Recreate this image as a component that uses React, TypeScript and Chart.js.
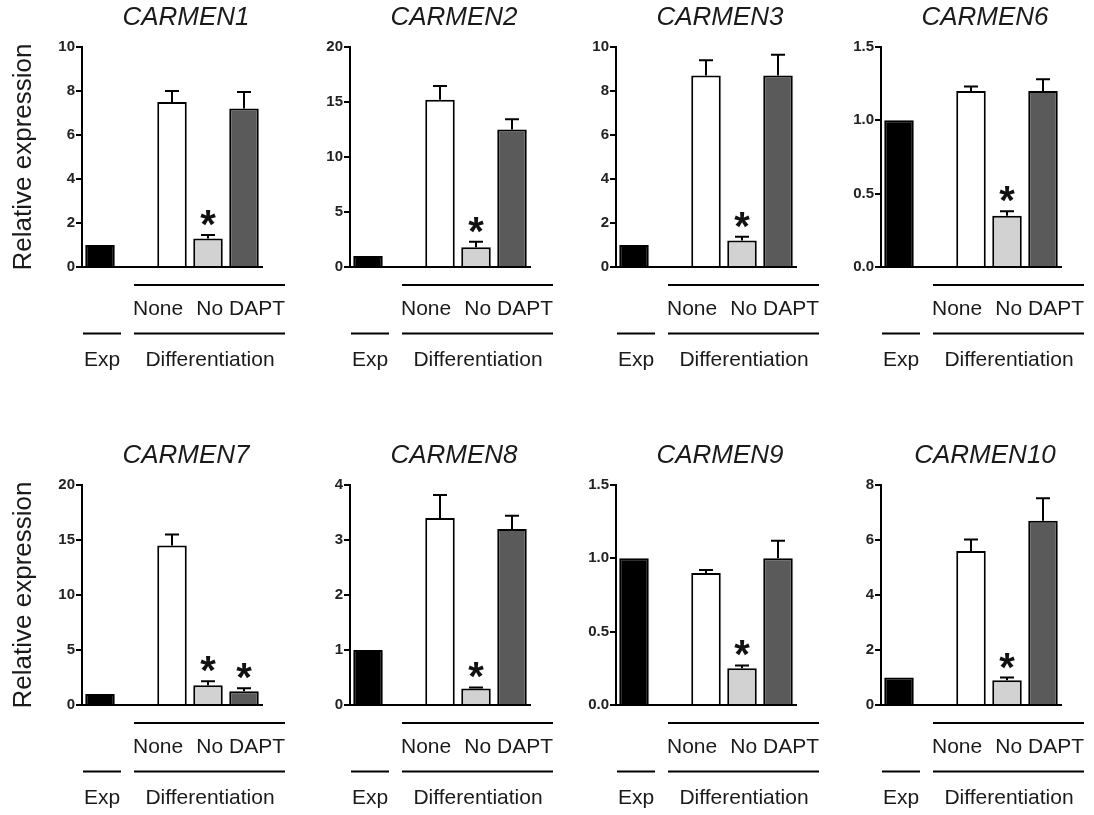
import React, { useEffect, useRef } from "react";
import { Chart, registerables } from "chart.js";

Chart.register(...registerables);

// ---------- data ----------
const panelNames = ["CARMEN1", "CARMEN2", "CARMEN3", "CARMEN6", "CARMEN7", "CARMEN8", "CARMEN9", "CARMEN10"];
const categories = ["Exp", "", "None", "No DAPT", " "];
const expValues = [1, 1, 1, 1, 1, 1, 1, 1];
const noneValues = [7.5, 15.2, 8.7, 1.2, 14.5, 3.4, 0.9, 5.6];
const noneErrors = [0.5, 1.25, 0.7, 0.03, 1.0, 0.42, 0.02, 0.42];
const noDaptValues = [1.3, 1.8, 1.2, 0.35, 1.8, 0.3, 0.25, 0.9];
const noDaptErrors = [0.15, 0.5, 0.17, 0.03, 0.35, 0.02, 0.02, 0.1];
const fourthValues = [7.2, 12.5, 8.7, 1.2, 1.25, 3.2, 1.0, 6.7];
const fourthErrors = [0.75, 0.93, 0.95, 0.08, 0.28, 0.24, 0.12, 0.82];
const noDaptSignificant = [true, true, true, true, true, true, true, true];
const fourthSignificant = [false, false, false, false, true, false, false, false];
const yMaxValues = [10, 20, 10, 1.5, 20, 4, 1.5, 8];
const yStepValues = [2, 5, 2, 0.5, 5, 1, 0.5, 2];
const yDecimals = [0, 0, 0, 1, 0, 0, 1, 0];
const treatmentLabels = ["None", "No DAPT"];
const groupLabels = ["Exp", "Differentiation"];
const yAxisTitle = "Relative expression";
const barColors = ["#000000", "#ffffff", "#ffffff", "#d2d2d2", "#5a5a5a"];

// ---------- layout ----------
const FONT = "'Liberation Sans', Arial, Helvetica, sans-serif";
const AXIS_X = [82, 350, 616, 881];
const ROW_TOP = [0, 438];
const CANVAS_W = 290;
const CANVAS_H = 375;
const AXIS_W = 82;
const PLOT_TOP = 47;
const PLOT_BOTTOM = 267;

const annotationPlugin = {
  id: "panelAnnotations",
  afterDatasetsDraw(chart: any) {
    const ctx = chart.ctx;
    const meta = chart.getDatasetMeta(0);
    const ys = chart.scales.y;
    const ds = chart.data.datasets[0];
    const errs: number[] = ds.errors;
    const sig: boolean[] = ds.significant;
    ctx.save();
    ctx.strokeStyle = "#000";
    ctx.lineWidth = 2;
    meta.data.forEach((el: any, i: number) => {
      const v = ds.data[i];
      if (v == null) return;
      const e = errs[i] || 0;
      const yTop = ys.getPixelForValue(v + e);
      if (e > 0) {
        ctx.beginPath();
        ctx.moveTo(el.x, el.y);
        ctx.lineTo(el.x, yTop);
        ctx.moveTo(el.x - 7, yTop);
        ctx.lineTo(el.x + 7, yTop);
        ctx.stroke();
      }
      if (sig[i]) {
        ctx.font = `bold 40px ${FONT}`;
        ctx.fillStyle = "#111";
        ctx.textAlign = "center";
        ctx.textBaseline = "alphabetic";
        const m = ctx.measureText("*");
        const off = (m.actualBoundingBoxAscent - m.actualBoundingBoxDescent) / 2;
        ctx.fillText("*", el.x, yTop - 17 + off);
      }
    });
    ctx.restore();
  },
  afterDraw(chart: any) {
    const ctx = chart.ctx;
    const idx = chart.options.panelIndex;
    const x0 = chart.chartArea.left;
    const yb = chart.chartArea.bottom;
    ctx.save();
    // title
    ctx.fillStyle = "#1a1a1a";
    ctx.font = `italic 26px ${FONT}`;
    ctx.textAlign = "center";
    ctx.textBaseline = "middle";
    ctx.fillText(panelNames[idx], x0 + 104, 18);
    // bracket lines
    ctx.strokeStyle = "#000";
    ctx.lineWidth = 2;
    ctx.beginPath();
    ctx.moveTo(x0 + 52, yb + 18);
    ctx.lineTo(x0 + 203, yb + 18);
    ctx.moveTo(x0 + 1, yb + 66.5);
    ctx.lineTo(x0 + 39, yb + 66.5);
    ctx.moveTo(x0 + 52, yb + 66.5);
    ctx.lineTo(x0 + 203, yb + 66.5);
    ctx.stroke();
    // labels
    ctx.font = `21px ${FONT}`;
    ctx.textBaseline = "middle";
    ctx.textAlign = "left";
    ctx.fillText(treatmentLabels[0], x0 + 51, yb + 42.5);
    ctx.textAlign = "right";
    ctx.fillText(treatmentLabels[1], x0 + 203, yb + 42.5);
    ctx.textAlign = "center";
    ctx.fillText(groupLabels[0], x0 + 20, yb + 93);
    ctx.fillText(groupLabels[1], x0 + 128, yb + 93);
    ctx.restore();
  },
};

function Panel({ index }: { index: number }) {
  const ref = useRef<HTMLCanvasElement | null>(null);
  const col = index % 4;
  const row = Math.floor(index / 4);
  useEffect(() => {
    if (!ref.current) return;
    const data = [expValues[index], null, noneValues[index], noDaptValues[index], fourthValues[index]];
    const errors = [0, 0, noneErrors[index], noDaptErrors[index], fourthErrors[index]];
    const significant = [false, false, false, noDaptSignificant[index], fourthSignificant[index]];
    const chart = new Chart(ref.current, {
      type: "bar",
      data: {
        labels: categories,
        datasets: [
          {
            data,
            errors,
            significant,
            backgroundColor: barColors,
            borderColor: "#000",
            borderWidth: 2,
            barPercentage: 0.82,
            categoryPercentage: 1,
          } as any,
        ],
      },
      options: {
        panelIndex: index,
        animation: false,
        responsive: false,
        maintainAspectRatio: false,
        events: [],
        layout: { padding: { top: PLOT_TOP, right: CANVAS_W - AXIS_W - 180, left: 0, bottom: 0 } },
        plugins: { legend: { display: false }, tooltip: { enabled: false }, title: { display: false } },
        scales: {
          x: {
            grid: { display: true, drawOnChartArea: false, drawTicks: false },
            border: { display: true, color: "#000", width: 2 },
            ticks: { display: false },
            afterFit: (s: any) => {
              s.height = CANVAS_H - PLOT_BOTTOM;
            },
          },
          y: {
            min: 0,
            max: yMaxValues[index],
            ticks: {
              stepSize: yStepValues[index],
              color: "#222",
              padding: 1,
              font: { family: FONT, size: 15, weight: "bold" },
              callback: (v: any) => Number(v).toFixed(yDecimals[index]),
            },
            grid: { drawOnChartArea: false, drawTicks: true, tickLength: 6, color: "#000", lineWidth: 2 },
            border: { display: true, color: "#000", width: 2 },
            title: {
              display: col === 0,
              text: yAxisTitle,
              color: "#1a1a1a",
              font: { family: FONT, size: 26, weight: "normal" },
              padding: { top: 8, bottom: 0 },
            },
            afterFit: (s: any) => {
              s.width = AXIS_W;
            },
          },
        },
      } as any,
      plugins: [annotationPlugin],
    });
    return () => chart.destroy();
  }, [index]);
  return (
    <canvas
      ref={ref}
      width={CANVAS_W}
      height={CANVAS_H}
      style={{ position: "absolute", left: AXIS_X[col] - AXIS_W, top: ROW_TOP[row], width: CANVAS_W, height: CANVAS_H }}
    />
  );
}

export default function App() {
  return (
    <div style={{ position: "absolute", left: 0, top: 0, width: 1094, height: 815, background: "#fff", overflow: "hidden" }}>
      {panelNames.map((_, i) => (
        <Panel key={i} index={i} />
      ))}
    </div>
  );
}
